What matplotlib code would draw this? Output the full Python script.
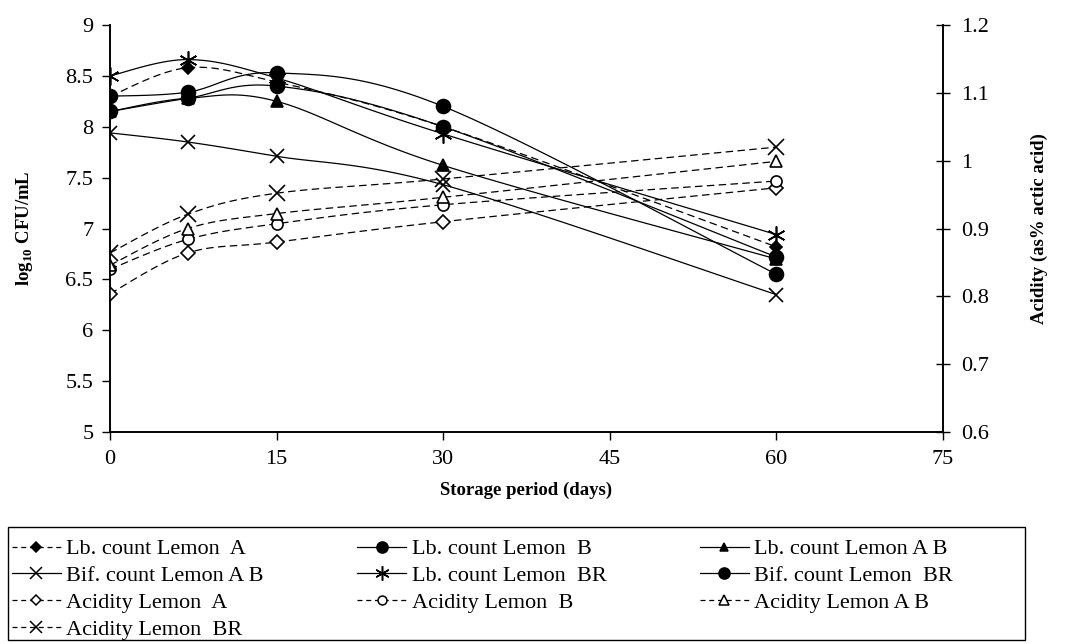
import matplotlib
matplotlib.use("Agg")
import matplotlib.pyplot as plt
from matplotlib.lines import Line2D
from matplotlib.patches import Rectangle
import numpy as np

plt.rcParams['font.family'] = ['Liberation Serif', 'DejaVu Serif']
plt.rcParams['mathtext.fontset'] = 'custom'
plt.rcParams['mathtext.rm'] = 'Liberation Serif'
plt.rcParams['mathtext.bf'] = 'Liberation Serif:bold'

days = [0, 7, 15, 30, 60]

# log10 CFU/mL (left axis)
lb_a = [8.30, 8.58, 8.44, 8.00, 6.82]
lb_b = [8.30, 8.34, 8.53, 8.20, 6.55]
lb_ab = [8.15, 8.28, 8.25, 7.62, 6.70]
bif_ab = [7.94, 7.85, 7.71, 7.43, 6.35]
lb_br = [8.50, 8.66, 8.48, 7.93, 6.94]
bif_br = [8.15, 8.28, 8.40, 8.00, 6.72]

# acidity, % acetic acid (right axis)
acid_a = [0.804, 0.864, 0.880, 0.910, 0.960]
acid_b = [0.840, 0.884, 0.907, 0.935, 0.970]
acid_ab = [0.846, 0.900, 0.922, 0.946, 0.999]
acid_br = [0.864, 0.921, 0.952, 0.973, 1.020]


def smooth(x, y, steps=30):
    # excel style smoothed line (bezier through the points)
    p = np.column_stack([x, y]).astype(float)
    p = np.vstack([p[0], p, p[-1]])
    segs = []
    t = np.linspace(0, 1, steps)[:, None]
    for i in range(1, len(p) - 2):
        p0, p1, p2, p3 = p[i - 1], p[i], p[i + 1], p[i + 2]
        c1 = p1 + (p2 - p0) / 6
        c2 = p2 - (p3 - p1) / 6
        segs.append((1 - t)**3 * p1 + 3 * (1 - t)**2 * t * c1 + 3 * (1 - t) * t**2 * c2 + t**3 * p2)
    s = np.vstack(segs)
    return s[:, 0], s[:, 1]


W, H = 1066, 644
fig = plt.figure(figsize=(W / 100, H / 100), dpi=100)
ax = fig.add_axes([110 / W, 1 - 432 / H, (943 - 110) / W, (432 - 25) / H])
ax2 = ax.twinx()

dash = (6, 3.5)
lw = 0.9
series = [
    (ax, lb_a, 'dashed', 'D', 'k', 6, "Lb. count Lemon  A"),
    (ax, lb_b, 'solid', 'o', 'k', 10, "Lb. count Lemon  B"),
    (ax, lb_ab, 'solid', '^', 'k', 8, "Lb. count Lemon A B"),
    (ax, bif_ab, 'solid', 'x', 'k', 10, "Bif. count Lemon A B"),
    (ax, lb_br, 'solid', (6, 2, 0), 'k', 13, "Lb. count Lemon  BR"),
    (ax, bif_br, 'solid', 'o', 'k', 10, "Bif. count Lemon  BR"),
    (ax2, acid_a, 'dashed', 'D', 'w', 7, "Acidity Lemon  A"),
    (ax2, acid_b, 'dashed', 'o', 'w', 8, "Acidity Lemon  B"),
    (ax2, acid_ab, 'dashed', '^', 'w', 9, "Acidity Lemon A B"),
    (ax2, acid_br, 'dashed', 'x', 'w', 11, "Acidity Lemon  BR"),
]

handles = []
for a, vals, ls, mk, fc, ms, lab in series:
    sx, sy = smooth(days, vals)
    ln, = a.plot(sx, sy, color='k', lw=lw, linestyle=ls)
    if ls == 'dashed':
        ln.set_dashes(dash)
    a.plot(days, vals, linestyle='none', marker=mk, markersize=ms, markerfacecolor=fc,
           markeredgecolor='k', markeredgewidth=1.2)
    h = Line2D([], [], color='k', lw=lw, linestyle=ls, marker=mk, markersize=ms * 0.8,
               markerfacecolor=fc, markeredgecolor='k', markeredgewidth=1.1)
    if ls == 'dashed':
        h.set_dashes((4, 3))
    handles.append((h, lab))

ax.set_xlim(0, 75)
ax.set_ylim(5, 9)
ax2.set_ylim(0.6, 1.2)
ax.set_xticks([0, 15, 30, 45, 60, 75])
ax.set_yticks([5, 5.5, 6, 6.5, 7, 7.5, 8, 8.5, 9])
ax.set_yticklabels(["5", "5.5", "6", "6.5", "7", "7.5", "8", "8.5", "9"])
ax2.set_yticks([0.6, 0.7, 0.8, 0.9, 1.0, 1.1, 1.2])
ax2.set_yticklabels(["0.6", "0.7", "0.8", "0.9", "1", "1.1", "1.2"])

for a in (ax, ax2):
    a.spines['top'].set_visible(False)
    for s in a.spines.values():
        s.set_linewidth(1.2)
ax.tick_params(axis='both', direction='out', length=6, width=1, labelsize=16, pad=6)
ax.tick_params(axis='x', pad=7)
ax2.tick_params(axis='y', direction='inout', length=10, width=1, labelsize=16, pad=8)

ax.set_xlabel("Storage period (days)", fontsize=13.5, fontweight='bold', labelpad=9)
ax.set_ylabel(r"log$_{\mathbf{10}}$ CFU/mL", fontsize=13.5, fontweight='bold', labelpad=22)
ax2.set_ylabel("Acidity (as% actic acid)", fontsize=13.5, fontweight='bold', labelpad=30)

# excel fills the legend row by row, matplotlib column by column
order = [0, 3, 6, 9, 1, 4, 7, 2, 5, 8]
leg = fig.legend([handles[i][0] for i in order], [handles[i][1] for i in order],
                 loc='upper left', ncol=3, bbox_to_anchor=(3 / W, 1 - 530 / H),
                 frameon=False, fontsize=16, handlelength=2.2, handletextpad=0.25,
                 columnspacing=4.2, labelspacing=0.28, borderpad=0.4, borderaxespad=0.0)

# legend frame spans the full width like the excel box
fig.patches.append(Rectangle((8 / W, 1 - 640 / H), 1017 / W, 113 / H, transform=fig.transFigure,
                             fill=False, edgecolor='k', linewidth=1.0))

fig.savefig("out.png", dpi=100)
